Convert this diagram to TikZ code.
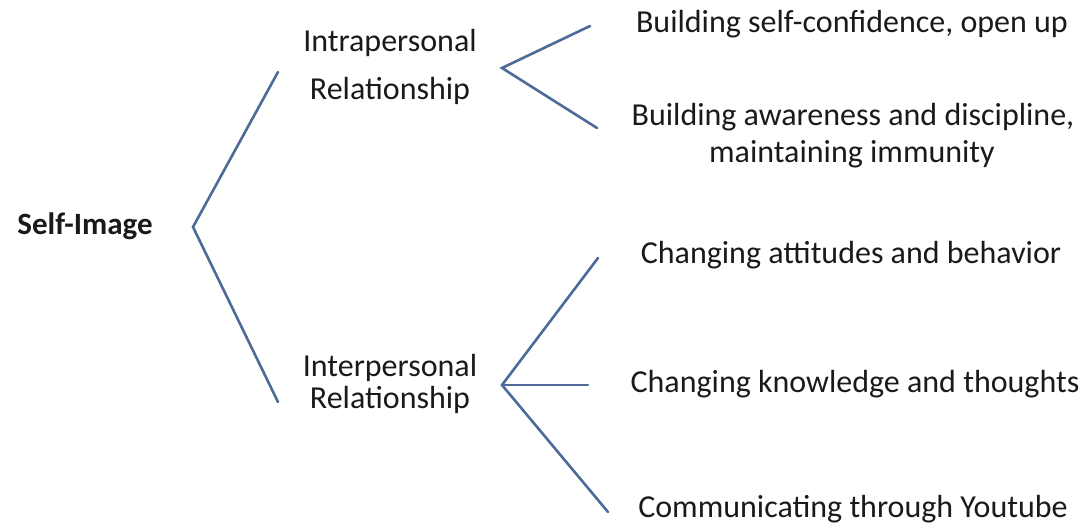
\documentclass[tikz,border=0pt]{standalone}
\usepackage{fontspec}
\setmainfont{Carlito}
\definecolor{branch}{HTML}{4E6A98}
\definecolor{ink}{HTML}{1A1A1A}
\begin{document}
\begin{tikzpicture}[x=1pt,y=-1pt,
  label/.style={font=\fontsize{32}{38}\selectfont, text=ink, inner sep=0pt, anchor=base},
  branchline/.style={draw=branch, line width=2.6pt, line cap=round, line join=miter}]
\useasboundingbox (0,0) rectangle (1088,526);
% texts (positioned by their baselines)
\node[label, font=\fontsize{31}{37}\selectfont\bfseries] (self) at (85,235) {Self-Image};
\node[label] (intraA) at (390,52) {Intrapersonal};
\node[label] (intraB) at (390,100) {Relationship};
\node[label] (interA) at (390,377) {Interpersonal};
\node[label] (interB) at (390,409) {Relationship};
\node[label] (t1) at (852,33) {Building self-confidence, open up};
\node[label] (t2a) at (853,126) {Building awareness and discipline,};
\node[label] (t2b) at (852,163) {maintaining immunity};
\node[label] (t3) at (851,264) {Changing attitudes and behavior};
\node[label] (t4) at (855,393) {Changing knowledge and thoughts};
\node[label] (t5) at (853,518) {Communicating through Youtube};
% bracket corners and ends
\coordinate (v0) at (193,227);
\coordinate (v0a) at (278,72);
\coordinate (v0b) at (278,402);
\coordinate (v1) at (502,68);
\coordinate (v1a) at (590,26);
\coordinate (v1b) at (597,128);
\coordinate (v2) at (502,385);
\coordinate (v2a) at (598,258);
\coordinate (v2b) at (588,385);
\coordinate (v2c) at (608,512);
\draw[branchline] (v0a) -- (v0) -- (v0b);
\draw[branchline] (v1a) -- (v1) -- (v1b);
\draw[branchline] (v2a) -- (v2) -- (v2c);
\draw[branchline] (v2) -- (v2b);
\end{tikzpicture}
\end{document}
